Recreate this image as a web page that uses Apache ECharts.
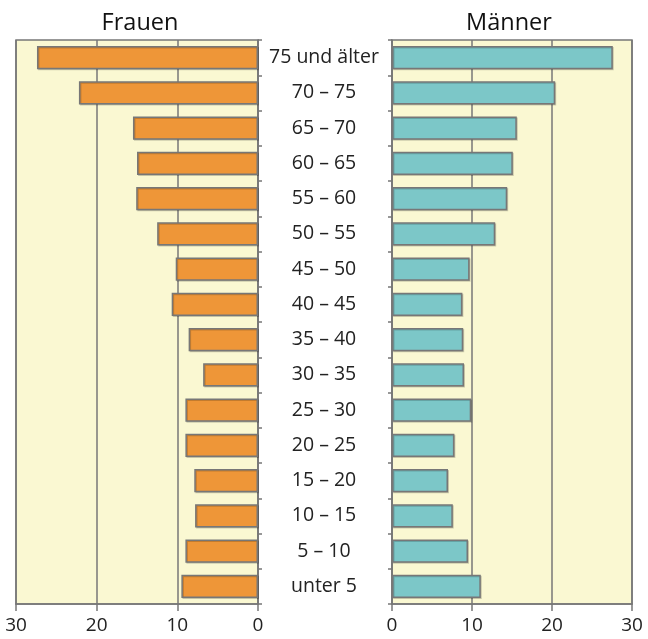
<!DOCTYPE html>
<html>
<head>
<meta charset="utf-8">
<script src="https://cdn.jsdelivr.net/npm/echarts@6/dist/echarts.min.js"></script>
<style>
  html, body { margin: 0; padding: 0; background: #fff; }
  #chart { width: 648px; height: 639px; }
</style>
</head>
<body>
<div id="chart"></div>
<script>
// Altersgruppen, von oben nach unten
var categories = ['75 und älter', '70 – 75', '65 – 70', '60 – 65', '55 – 60', '50 – 55', '45 – 50', '40 – 45',
  '35 – 40', '30 – 35', '25 – 30', '20 – 25', '15 – 20', '10 – 15', '5 – 10', 'unter 5'];
var frauen = [27.4, 22.2, 15.5, 15.0, 15.1, 12.5, 10.2, 10.7, 8.6, 6.8, 9.0, 9.0, 7.9, 7.8, 9.0, 9.5];
var maenner = [27.6, 20.4, 15.6, 15.1, 14.4, 12.9, 9.7, 8.8, 8.9, 9.0, 9.9, 7.8, 7.0, 7.6, 9.5, 11.1];
var xTicks = [0, 10, 20, 30];

var font = '"Open Sans", "Noto Sans", sans-serif';
var gray = '#777';

function valueAxis(gridIndex, inverse) {
  return {
    type: 'value',
    gridIndex: gridIndex,
    inverse: inverse,
    min: xTicks[0],
    max: xTicks[xTicks.length - 1],
    interval: 10,
    axisLine: { show: true, lineStyle: { color: gray, width: 1.5 } },
    axisTick: { show: true, length: 7, lineStyle: { color: gray, width: 1.5 } },
    axisLabel: { margin: 12, fontSize: 19, color: '#222', fontFamily: font },
    splitLine: { show: true, lineStyle: { color: gray, width: 1.5 } }
  };
}

function catAxis(gridIndex, position, showLabel) {
  return {
    type: 'category',
    gridIndex: gridIndex,
    position: position,
    inverse: true,
    data: categories,
    axisLine: { show: true, lineStyle: { color: gray, width: 1.5 } },
    axisTick: { show: true, length: 4, lineStyle: { color: gray, width: 1.5 } },
    axisLabel: { show: showLabel, margin: 66, align: 'center', fontSize: 19.5, color: '#222', fontFamily: font },
    splitLine: { show: false }
  };
}

function barSeries(idx, values, color) {
  return {
    type: 'bar',
    xAxisIndex: idx,
    yAxisIndex: idx,
    data: values,
    barWidth: '66%',
    silent: true,
    itemStyle: {
      color: color,
      borderColor: gray,
      borderWidth: 1.5,
      shadowColor: 'rgba(0,0,0,0.18)',
      shadowOffsetX: 1,
      shadowOffsetY: 1
    }
  };
}

var chart = echarts.init(document.getElementById('chart'));
chart.setOption({
  animation: false,
  grid: [
    { left: 16, right: 390, top: 40, bottom: 35, show: true, backgroundColor: '#faf8d2', borderColor: gray, borderWidth: 1.5 },
    { left: 392, right: 16, top: 40, bottom: 35, show: true, backgroundColor: '#faf8d2', borderColor: gray, borderWidth: 1.5 }
  ],
  xAxis: [valueAxis(0, true), valueAxis(1, false)],
  yAxis: [catAxis(0, 'right', true), catAxis(1, 'left', false)],
  graphic: [
    { type: 'text', x: 140, y: 23, style: { text: 'Frauen', font: '23.5px ' + font, fill: '#111', textAlign: 'center', textVerticalAlign: 'middle' } },
    { type: 'text', x: 509, y: 23, style: { text: 'Männer', font: '23.5px ' + font, fill: '#111', textAlign: 'center', textVerticalAlign: 'middle' } }
  ],
  series: [
    barSeries(0, frauen, '#ee9638'),
    barSeries(1, maenner, '#7cc7c8')
  ]
});
</script>
</body>
</html>
